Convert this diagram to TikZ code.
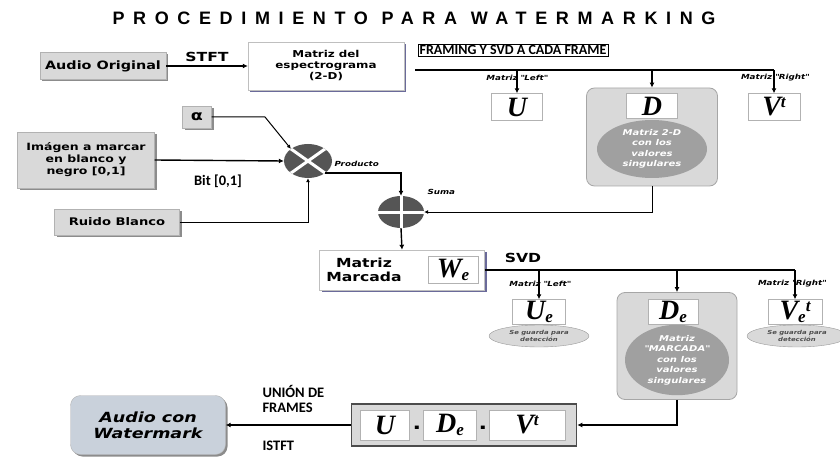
\documentclass[tikz,border=0pt]{standalone}
\usepackage{fontspec}
\setmainfont{DejaVu Sans}[FakeStretch=1.25]
\newfontfamily\titlefont[LetterSpace=48]{Liberation Sans}
\newfontfamily\calfont{Carlito}
\newfontfamily\letfont{Liberation Serif}
\usetikzlibrary{arrows.meta,shapes.geometric,shadows}

\definecolor{boxgray}{HTML}{D9D9D9}
\definecolor{shadegray}{HTML}{8C8C8C}
\definecolor{ovalgray}{HTML}{A0A0A0}
\definecolor{opgray}{HTML}{555555}
\definecolor{bluegray}{HTML}{C9D1DB}
\definecolor{purpshade}{HTML}{6A6A9A}

\newcommand{\lettersize}{\fontsize{28}{28}\selectfont}
\newcommand{\subsize}{\fontsize{17}{17}\selectfont}
\newcommand{\qq}{\textquotedbl}

\tikzset{
  graybox/.style={draw=gray!60, fill=boxgray, align=center, inner sep=0pt,
    font=\bfseries\fontsize{10}{12}\selectfont,
    drop shadow={shadow xshift=2pt, shadow yshift=-2pt, fill=shadegray, opacity=1}},
  whitebox/.style={draw=gray!50, fill=white, align=center, inner sep=0pt,
    font=\bfseries\fontsize{9.5}{11}\selectfont,
    drop shadow={shadow xshift=2pt, shadow yshift=-2pt, fill=purpshade, opacity=1}},
  letterbox/.style={draw=gray!60, fill=white, inner sep=0pt,
    font=\letfont\bfseries\itshape\lettersize},
  groupbox/.style={draw=gray!70, fill=boxgray, rounded corners=8pt, line width=0.8pt},
  oval/.style={ellipse, fill=ovalgray, text=white, align=center, inner sep=0pt,
    font=\bfseries\itshape\fontsize{8}{10.5}\selectfont},
  guard/.style={ellipse, draw=gray!80, fill=boxgray, align=center, inner sep=0pt,
    text=black!70, font=\bfseries\itshape\fontsize{5.5}{6.5}\selectfont},
  opnode/.style={ellipse, fill=opgray, inner sep=0pt},
  conn/.style={line width=1.4pt, -{Latex[length=5pt,width=5pt]}},
  plain/.style={line width=1.4pt},
  tag/.style={font=\bfseries\itshape\fontsize{7}{8}\selectfont},
  callabel/.style={font=\calfont\bfseries\fontsize{14.5}{15}\selectfont, align=left},
  biglabel/.style={font=\bfseries\fontsize{12.5}{13}\selectfont},
}

\begin{document}
\begin{tikzpicture}[x=1pt,y=-1pt]
\useasboundingbox (0,0) rectangle (840,465);

% titulo
\node (title) at (414,18) {\titlefont\bfseries\fontsize{18}{18}\selectfont PROCEDIMIENTO PARA WATERMARKING};

% primera fila
\node[graybox, minimum width=126, minimum height=27, font=\bfseries\fontsize{11.5}{12}\selectfont] (audio) at (103,66) {Audio Original};
\node[whitebox, minimum width=156, minimum height=48] (espec) at (326,66) {Matriz del\\espectrograma\\(2-D)};
\node[draw, inner sep=1.5pt, font=\calfont\bfseries\fontsize{14}{14}\selectfont] (framing) at (513,50) {FRAMING Y SVD A CADA FRAME};
\draw[conn] (audio) -- node[above, biglabel] (stft) {STFT} (espec);

% descomposicion SVD
\node[letterbox, minimum width=51, minimum height=27] (U) at (517,107) {U};
\node[groupbox, minimum width=131, minimum height=98] (dgrp) at (652,137) {};
\node[letterbox, minimum width=51, minimum height=25] (D) at (652,106) {D};
\node[oval, minimum width=110, minimum height=58] (dval) at (652,149) {Matriz 2-D\\con los\\valores\\singulares};
\node[letterbox, minimum width=52, minimum height=27] (V) at (774,107) {V\raisebox{8pt}{\subsize t}};

\coordinate (split) at (415,70);
\node[tag] (leftA) at (517,78) {Matriz \qq Left\qq};
\node[tag] (rightA) at (775,78) {Matriz \qq Right\qq};
\draw[plain] (split) -- (V.north |- split);
\draw[conn] (U.north |- split) -- (U.north);
\draw[conn] (dgrp.north |- split) -- (dgrp.north);
\draw[conn] (V.north |- split) -- (V.north);

% insercion
\node[graybox, minimum width=29, minimum height=22, font=\bfseries\fontsize{14}{14}\selectfont] (alpha) at (197,117) {α};
\node[graybox, minimum width=137, minimum height=56] (imagen) at (86,160) {Imágen a marcar\\en blanco y\\negro [0,1]};
\node[graybox, minimum width=125, minimum height=26, font=\bfseries\fontsize{10.5}{12}\selectfont] (ruido) at (117,222) {Ruido Blanco};

\node[opnode, minimum width=48, minimum height=34] (prod) at (308,161) {};
\begin{scope}
  \clip (prod.center) ellipse (24 and 17);
  \draw[white, line width=3pt] (284,144) -- (332,178);
  \draw[white, line width=3pt] (284,178) -- (332,144);
\end{scope}
\node[tag, anchor=west] (prodlbl) at (331,164) {Producto};

\node[opnode, minimum width=46, minimum height=32] (suma) at (401,212) {};
\draw[white, line width=3pt] (suma.north) -- (suma.south);
\draw[white, line width=3pt] (suma.west) -- (suma.east);
\node[tag, anchor=west] (sumalbl) at (424,192) {Suma};

\coordinate (abend) at (265,117);
\draw[line width=1pt, -{Latex[length=4pt,width=4pt]}] (alpha.east) -- (abend) -- (prod.north west);
\draw[conn] (imagen.east) -- (prod.west);
\node[callabel] (bit) at (218,181) {Bit [0,1]};
\draw[line width=1pt, -{Latex[length=4pt,width=4pt]}] (ruido.east) -| (prod.south);
\draw[conn] (prod.south east) -| (suma.north);
\draw[line width=1pt, -{Latex[length=4pt,width=4pt]}] (dgrp.south) |- (suma.east);

% matriz marcada
\node[whitebox, minimum width=165, minimum height=40] (marcada) at (402,270) {};
\node[font=\bfseries\fontsize{12.5}{14}\selectfont, align=center] (mtxt) at (364,270) {Matriz\\Marcada};
\node[letterbox, minimum width=50, minimum height=27] (We) at (453,270) {W\raisebox{-3pt}{\subsize e}};
\draw[conn] (suma.south) -- (marcada.north);
\node[biglabel] (svd) at (523,258) {SVD};

% segunda descomposicion
\node[letterbox, minimum width=53, minimum height=25] (Ue) at (539,312) {U\raisebox{-3pt}{\subsize e}};
\node[guard, minimum width=100, minimum height=22] (ueg) at (539,336) {Se guarda para\\detección};
\node[groupbox, minimum width=120, minimum height=107] (degrp) at (677,346) {};
\node[letterbox, minimum width=50, minimum height=25] (De) at (673,312) {D\raisebox{-3pt}{\subsize e}};
\node[oval, minimum width=104, minimum height=66] (deval) at (677,360) {Matriz\\\qq MARCADA\qq\\con los\\valores\\singulares};
\node[letterbox, minimum width=54, minimum height=25] (Ve) at (795,312) {V\raisebox{-3pt}{\subsize e}\raisebox{8pt}{\subsize t}};
\node[guard, minimum width=100, minimum height=22] (veg) at (797,336) {Se guarda para\\detección};

\node[tag] (leftB) at (540,284) {Matriz \qq Left\qq};
\node[tag] (rightB) at (792,284) {Matriz \qq Right\qq};
\draw[plain] (marcada.east) -- (Ve.north |- marcada.east);
\draw[conn] (Ue.north |- marcada.east) -- (Ue.north);
\draw[conn] (degrp.north |- marcada.east) -- (degrp.north);
\draw[conn] (Ve.north |- marcada.east) -- (Ve.north);

% reconstruccion
\node[draw=black!70, line width=1.6pt, fill=boxgray, minimum width=225, minimum height=42] (recon) at (464,425) {};
\node[letterbox, minimum width=49, minimum height=30] (Ur) at (385,425) {U};
\node[letterbox, minimum width=53, minimum height=30] (Dr) at (450,425) {D\raisebox{-3pt}{\subsize e}};
\node[letterbox, minimum width=76, minimum height=30] (Vr) at (527,425) {V\raisebox{8pt}{\subsize t}};
\node[font=\bfseries\fontsize{18}{18}\selectfont] (dot1) at (417,428) {.};
\node[font=\bfseries\fontsize{18}{18}\selectfont] (dot2) at (483,428) {.};
\draw[conn] (degrp.south) |- (recon.east);

\node[graybox, fill=bluegray, rounded corners=10pt, minimum width=155, minimum height=59,
  font=\bfseries\itshape\fontsize{14}{16}\selectfont] (final) at (148,425) {Audio con\\Watermark};
\draw[conn] (recon.west) -- (final.east);
\node[callabel, anchor=west] (union) at (259,399) {UNIÓN DE\\FRAMES};
\node[callabel, anchor=west] (istft) at (259,446) {ISTFT};
\end{tikzpicture}
\end{document}
